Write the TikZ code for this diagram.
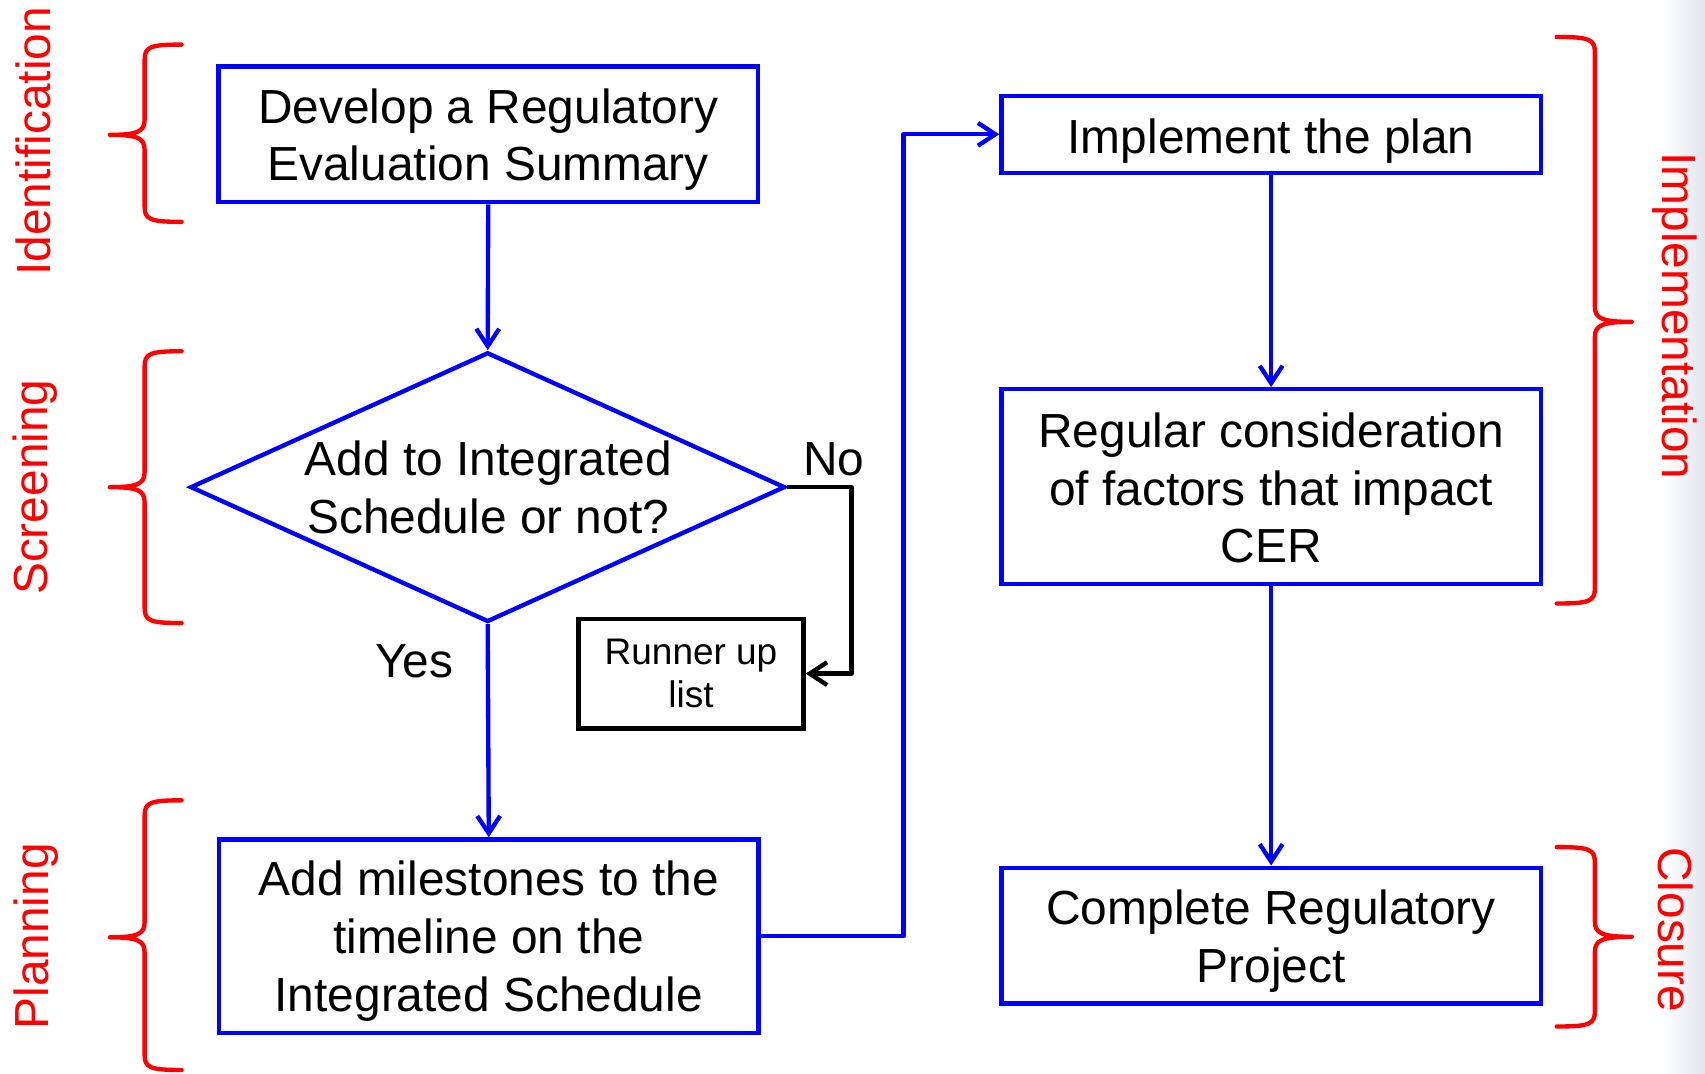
\documentclass[tikz,border=0pt]{standalone}
\usepackage{fontspec}
\setmainfont{Liberation Sans}
\usetikzlibrary{arrows.meta,shapes.geometric}
\newcommand{\curlybr}[6]{%
  \draw[bracestyle] (#2,#4) .. controls ({#1+0.15*(#2-#1)},#4) and (#1,#4+2) .. (#1,#4+14)
    -- (#1,#5-14) .. controls (#1,#5-3) and ({#1+0.2*(#3-#1)},#5) .. (#3,#5)
    .. controls ({#1+0.2*(#3-#1)},#5) and (#1,#5+3) .. (#1,#5+14)
    -- (#1,#6-14) .. controls (#1,#6-2) and ({#1+0.15*(#2-#1)},#6) .. (#2,#6);}
\begin{document}
\begin{tikzpicture}[x=0.5pt,y=-0.5pt,
  bluebox/.style={draw={rgb,255:red,0;green,0;blue,255}, line width=2pt, rectangle,
    minimum width=248pt, inner sep=0pt},
  blackbox/.style={draw=black, line width=2pt, rectangle, align=center, inner sep=0pt,
    minimum width=103.5pt, minimum height=50.5pt, font=\fontsize{17}{20}\selectfont},
  bluearrow/.style={draw={rgb,255:red,0;green,0;blue,255}, line width=2pt, line join=round,
    -{Straight Barb[length=8pt,width=10.5pt]}},
  blackarrow/.style={draw=black, line width=2pt, line join=round,
    -{Straight Barb[length=8pt,width=10.5pt]}},
  bracestyle/.style={draw={rgb,255:red,255;green,0;blue,0}, line width=2pt, line cap=round, line join=round},
  phase/.style={text={rgb,255:red,255;green,0;blue,0}, font=\fontsize{22}{26.5}\selectfont, inner sep=0pt},
  plain/.style={font=\fontsize{22}{26.5}\selectfont, inner sep=0pt, align=center}
]
\useasboundingbox (0,0) rectangle (1568,987);
\shade[left color=white, right color={rgb,255:red,226;green,229;blue,236}] (1529,0) rectangle (1568,987);

% left column
\node[bluebox, minimum height=62.5pt] (dev) at (449,123.5) {};
\node[plain] (devt) at (449,128.5) {Develop a Regulatory\\Evaluation Summary};
\node[draw={rgb,255:red,0;green,0;blue,255}, line width=2pt, diamond, inner sep=0pt,
      minimum width=273.5pt, minimum height=124pt] (dia) at (448.5,448) {};
\node[plain] (diatext) at (449,448.5) {Add to Integrated\\Schedule or not?};
\node[blackbox] (run) at (635.5,619.5) {Runner up\\list};
\node[bluebox, minimum height=89pt] (mile) at (449.5,861) {};
\node[plain] (milet) at (449.5,865.5) {Add milestones to the\\timeline on the\\Integrated Schedule};

% right column
\node[bluebox, minimum height=35.5pt] (impl) at (1169,123.5) {};
\node[plain] (implt) at (1169,129.5) {Implement the plan};
\node[bluebox, minimum height=89.5pt] (reg) at (1169,447.5) {};
\node[plain] (regt) at (1169,449) {Regular consideration\\of factors that impact\\CER};
\node[bluebox, minimum height=62.5pt] (comp) at (1169,860.5) {};
\node[plain] (compt) at (1169,865.5) {Complete Regulatory\\Project};

% labels
\node[plain] (no) at (767,422) {No};
\node[plain] (yes) at (381,608) {Yes};

% connectors
\coordinate (nox) at (783,448);
\coordinate (vx) at (831,500);
\draw[bluearrow] (dev.south) -- (dia.north);
\draw[bluearrow] (dia.south) -- (mile.north);
\draw[blackarrow] (dia.east) -- (nox) |- (run.east);
\draw[bluearrow] (mile.east) -- (mile.east -| vx) |- (impl.west);
\draw[bluearrow] (impl.south) -- (reg.north);
\draw[bluearrow] (reg.south) -- (comp.north);

% braces
\curlybr{133}{167}{101}{41}{124}{204}
\curlybr{133}{167}{101}{323}{448}{573}
\curlybr{133}{167}{101}{736}{862}{984}
\curlybr{1466.7}{1431.6}{1500.7}{34}{296}{555}
\curlybr{1466.7}{1431.6}{1500.7}{779}{861.5}{944}

% phase labels
\node[phase, rotate=90] (lid) at (31,130) {Identification};
\node[phase, rotate=90] (lsc) at (32,448) {Screening};
\node[phase, rotate=90] (lpl) at (33,861) {Planning};
\node[phase, rotate=-90] (lim) at (1540,290.5) {Implementation};
\node[phase, rotate=-90] (lcl) at (1541,855) {Closure};
\end{tikzpicture}
\end{document}
